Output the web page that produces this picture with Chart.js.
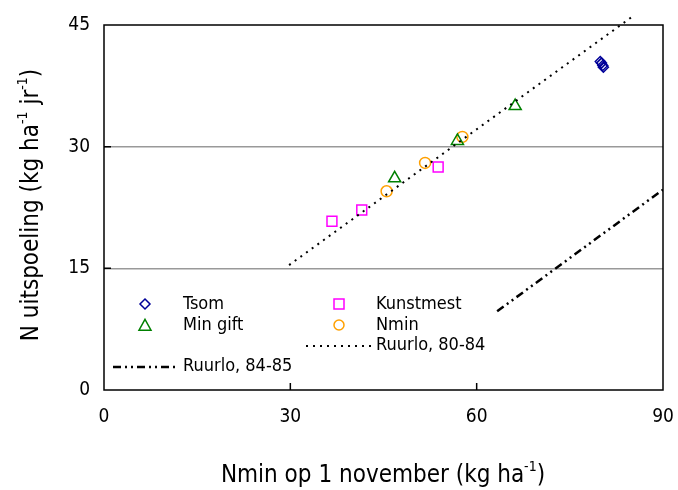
<!DOCTYPE html>
<html>
<head>
<meta charset="utf-8">
<script src="https://cdn.jsdelivr.net/npm/chart.js@4.4.1/dist/chart.umd.min.js"></script>
<style>
  body { margin: 0; background: #fff; }
  canvas { display: block; }
</style>
</head>
<body>
<canvas id="uitspoelingChart" width="678" height="490"></canvas>
<script>
// tick labels
const xTicks = [0, 30, 60, 90];
const yTicks = [0, 15, 30, 45];

// measured series
const tsomX = [79.9, 80.1, 80.3, 80.4];
const tsomY = [40.5, 40.3, 40.0, 39.8];
const kunstmestX = [36.7, 41.5, 53.8];
const kunstmestY = [20.8, 22.2, 27.5];
const minGiftX = [46.8, 56.9, 66.2];
const minGiftY = [26.1, 30.7, 35.0];
const nminX = [45.5, 51.7, 57.7];
const nminY = [24.5, 28.0, 31.2];

// regression lines (end points)
const ruurlo8084X = [29.8, 85.0];
const ruurlo8084Y = [15.4, 46.0];
const ruurlo8485X = [63.3, 90.0];
const ruurlo8485Y = [9.7, 24.7];

const FONT = '"Liberation Sans Narrow", "DejaVu Sans Condensed", "Liberation Sans", sans-serif';

const pts = (xs, ys) => xs.map((x, i) => ({ x: x, y: ys[i] }));

function drawMarker(ctx, style, x, y, r, color) {
    ctx.save();
    ctx.strokeStyle = color;
    ctx.lineWidth = 1.5;
    ctx.beginPath();
    if (style === 'rectRot') {
        ctx.moveTo(x, y - r); ctx.lineTo(x + r, y); ctx.lineTo(x, y + r); ctx.lineTo(x - r, y); ctx.closePath();
    } else if (style === 'rect') {
        ctx.rect(x - r, y - r, 2 * r, 2 * r);
    } else if (style === 'triangle') {
        ctx.moveTo(x, y - r * 1.1); ctx.lineTo(x + r, y + r * 0.7); ctx.lineTo(x - r, y + r * 0.7); ctx.closePath();
    } else {
        ctx.arc(x, y, r, 0, Math.PI * 2);
    }
    ctx.stroke();
    ctx.restore();
}

// text with superscript parts, centred on x
function drawSupText(ctx, parts, x, y, size) {
    const supSize = Math.round(size * 0.6);
    let total = 0;
    parts.forEach(p => {
        ctx.font = (p.sup ? supSize : size) + 'px ' + FONT;
        p.w = ctx.measureText(p.t).width;
        total += p.w;
    });
    let cx = x - total / 2;
    ctx.textAlign = 'left';
    ctx.textBaseline = 'alphabetic';
    parts.forEach(p => {
        ctx.font = (p.sup ? supSize : size) + 'px ' + FONT;
        ctx.fillText(p.t, cx, p.sup ? y - size * 0.45 : y);
        cx += p.w;
    });
}

const extrasPlugin = {
    id: 'extras',
    afterDraw(chart) {
        const { ctx, chartArea: a, scales } = chart;
        ctx.save();
        ctx.fillStyle = '#000';

        // frame
        ctx.strokeStyle = '#000';
        ctx.lineWidth = 1.5;
        ctx.strokeRect(a.left, a.top, a.right - a.left, a.bottom - a.top);

        // inward tick marks
        ctx.beginPath();
        xTicks.slice(1, -1).forEach(v => {
            const px = scales.x.getPixelForValue(v);
            ctx.moveTo(px, a.bottom); ctx.lineTo(px, a.bottom - 7);
        });
        yTicks.slice(1, -1).forEach(v => {
            const py = scales.y.getPixelForValue(v);
            ctx.moveTo(a.left, py); ctx.lineTo(a.left + 7, py);
        });
        ctx.stroke();

        // axis titles
        drawSupText(ctx, [{ t: 'Nmin op 1 november (kg ha' }, { t: '-1', sup: true }, { t: ')' }], 383, 482, 24);
        ctx.save();
        ctx.translate(38, 205);
        ctx.rotate(-Math.PI / 2);
        drawSupText(ctx, [{ t: 'N uitspoeling (kg ha' }, { t: '-1', sup: true }, { t: ' jr' }, { t: '-1', sup: true }, { t: ')' }], 0, 0, 24);
        ctx.restore();

        // legend
        ctx.font = '18px ' + FONT;
        ctx.textAlign = 'left';
        ctx.textBaseline = 'middle';
        ctx.fillStyle = '#000';
        drawMarker(ctx, 'rectRot', 145, 304, 5, '#000099');
        ctx.fillText('Tsom', 183, 304);
        drawMarker(ctx, 'rect', 339, 304, 5, '#ff00ff');
        ctx.fillText('Kunstmest', 376, 304);
        drawMarker(ctx, 'triangle', 145, 326, 6, '#008000');
        ctx.fillText('Min gift', 183, 325);
        drawMarker(ctx, 'circle', 339, 325, 5, '#ffa000');
        ctx.fillText('Nmin', 376, 325);

        ctx.strokeStyle = '#000';
        ctx.lineWidth = 2;
        ctx.setLineDash([2, 5]);
        ctx.beginPath(); ctx.moveTo(306, 346); ctx.lineTo(372, 346); ctx.stroke();
        ctx.fillText('Ruurlo, 80-84', 376, 345);
        ctx.lineWidth = 2.5;
        ctx.setLineDash([8, 4, 2, 4, 2, 4]);
        ctx.beginPath(); ctx.moveTo(113, 367); ctx.lineTo(178, 367); ctx.stroke();
        ctx.fillText('Ruurlo, 84-85', 183, 366);
        ctx.restore();
    }
};

new Chart(document.getElementById('uitspoelingChart'), {
    type: 'scatter',
    data: {
        datasets: [
            { label: 'Ruurlo, 80-84', type: 'line', data: pts(ruurlo8084X, ruurlo8084Y), borderColor: '#000', borderWidth: 2, borderDash: [2, 5], pointRadius: 0, showLine: true, clip: false },
            { label: 'Ruurlo, 84-85', type: 'line', data: pts(ruurlo8485X, ruurlo8485Y), borderColor: '#000', borderWidth: 2.5, borderDash: [8, 4, 2, 4, 2, 4], pointRadius: 0, showLine: true },
            { label: 'Tsom', data: pts(tsomX, tsomY), pointStyle: 'rectRot', pointRadius: 5, borderColor: '#000099', backgroundColor: 'transparent', pointBorderWidth: 1.5 },
            { label: 'Kunstmest', data: pts(kunstmestX, kunstmestY), pointStyle: 'rect', pointRadius: 7, borderColor: '#ff00ff', backgroundColor: 'transparent', pointBorderWidth: 1.5 },
            { label: 'Min gift', data: pts(minGiftX, minGiftY), pointStyle: 'triangle', pointRadius: 7, borderColor: '#008000', backgroundColor: 'transparent', pointBorderWidth: 1.5 },
            { label: 'Nmin', data: pts(nminX, nminY), pointStyle: 'circle', pointRadius: 5.5, borderColor: '#ffa000', backgroundColor: 'transparent', pointBorderWidth: 1.5 }
        ]
    },
    options: {
        responsive: false,
        animation: false,
        devicePixelRatio: 1,
        layout: { padding: { left: 0, top: 25, right: 15, bottom: 0 } },
        plugins: { legend: { display: false }, tooltip: { enabled: false } },
        scales: {
            x: {
                type: 'linear', min: 0, max: 90,
                afterBuildTicks: s => { s.ticks = xTicks.map(v => ({ value: v })); },
                afterFit: s => { s.height = 100; s.paddingLeft = 0; s.paddingRight = 0; },
                ticks: { color: '#000', font: { size: 19, family: FONT }, padding: 16 },
                grid: { display: false, drawTicks: false },
                border: { display: false }
            },
            y: {
                type: 'linear', min: 0, max: 45,
                afterBuildTicks: s => { s.ticks = yTicks.map(v => ({ value: v })); },
                afterFit: s => { s.width = 104; s.paddingTop = 0; s.paddingBottom = 0; },
                ticks: { color: '#000', font: { size: 19, family: FONT }, padding: 14 },
                grid: {
                    drawTicks: false,
                    lineWidth: 1.5,
                    color: c => (c.tick && (c.tick.value === 15 || c.tick.value === 30)) ? '#999' : 'rgba(0,0,0,0)'
                },
                border: { display: false }
            }
        }
    },
    plugins: [extrasPlugin]
});
</script>
</body>
</html>
